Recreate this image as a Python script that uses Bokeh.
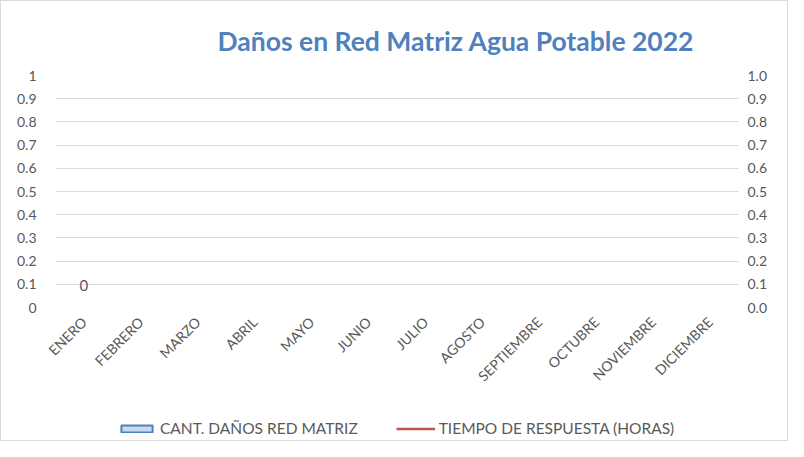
import math
from bokeh.plotting import figure
from bokeh.layouts import column
from bokeh.models import (FactorRange, Range1d, LinearAxis, FixedTicker, Title,
                          Legend, LegendItem, ColumnDataSource, CustomJSTickFormatter)
from bokeh.core.properties import value
from bokeh.embed import file_html
from bokeh.resources import INLINE

months = ["ENERO", "FEBRERO", "MARZO", "ABRIL", "MAYO", "JUNIO", "JULIO",
          "AGOSTO", "SEPTIEMBRE", "OCTUBRE", "NOVIEMBRE", "DICIEMBRE"]
nan = float("nan")
danos = [0, nan, nan, nan, nan, nan, nan, nan, nan, nan, nan, nan]
tiempo = [nan] * 12
left_ticks = [0, 0.1, 0.2, 0.3, 0.4, 0.5, 0.6, 0.7, 0.8, 0.9, 1]
title_text = "Daños en Red Matriz Agua Potable 2022"
series_names = ["CANT. DAÑOS RED MATRIZ", "TIEMPO DE RESPUESTA (HORAS)"]

FONT = "Lato"
GREY = "#595959"

src = ColumnDataSource(dict(m=months, d=danos, t=tiempo,
                            lbl=["0" if v == 0 else "" for v in danos]))

p = figure(width=786, height=400, x_range=FactorRange(*months), y_range=Range1d(0, 1),
           output_backend="svg", toolbar_location=None,
           min_border_left=54, min_border_right=49, min_border_top=74, min_border_bottom=94)
p.outline_line_color = None
p.xgrid.grid_line_color = None
p.ygrid.grid_line_color = "#d9d9d9"
p.ygrid.grid_line_width = 1
p.ygrid.ticker = FixedTicker(ticks=left_ticks)

title = Title(text=title_text, align="left", offset=162, standoff=37,
              text_font=FONT, text_font_style="bold", text_font_size="26.5px",
              text_color="#4f81bd")
p.add_layout(title, "above")

# left axis
ya = p.yaxis[0]
ya.ticker = FixedTicker(ticks=left_ticks)
ya.formatter = CustomJSTickFormatter(code="return String(Math.round(tick*10)/10);")
ya.axis_line_color = None
ya.major_tick_line_color = None
ya.minor_tick_line_color = None
ya.major_label_text_color = GREY
ya.major_label_text_font = FONT
ya.major_label_text_font_size = "14px"
ya.major_label_standoff = 13

# right axis
ra = LinearAxis(ticker=FixedTicker(ticks=left_ticks),
                formatter=CustomJSTickFormatter(code="return (Math.round(tick*10)/10).toFixed(1);"))
ra.axis_line_color = None
ra.major_tick_line_color = None
ra.minor_tick_line_color = None
ra.major_label_text_color = GREY
ra.major_label_text_font = FONT
ra.major_label_text_font_size = "14px"
ra.major_label_standoff = 3
p.add_layout(ra, "right")

xa = p.xaxis[0]
xa.axis_line_color = None
xa.major_tick_line_color = None
xa.minor_tick_line_color = None
xa.major_label_orientation = math.pi / 4
xa.major_label_text_color = GREY
xa.major_label_text_font = FONT
xa.major_label_text_font_size = "14px"
xa.major_label_standoff = 6

# data (zero-height bars draw nothing, as in the reference)
p.vbar(x="m", top="d", width=0.6, source=src, fill_color="#c6d9f1", line_color=None)
p.line(x="m", y="t", source=src, line_color="#c0504d", line_width=2.5)
p.text(x="m", y=0, text="lbl", source=src, text_align="center", text_baseline="middle",
       y_offset=-22, text_color=GREY, text_font=value(FONT), text_font_size="15px")

# legend strip
lf = figure(width=786, height=39, x_range=FactorRange(*months), y_range=Range1d(0, 1),
            output_backend="svg", toolbar_location=None,
            min_border_left=0, min_border_right=0, min_border_top=0, min_border_bottom=0)
lf.axis.visible = False
lf.grid.visible = False
lf.outline_line_color = None
bar_key = lf.vbar(x="m", top="t", width=0.6, source=src, fill_color="#c6d9f1",
                  line_color="#4f81bd", line_width=2)
line_key = lf.line(x="m", y="t", source=src, line_color="#c0504d", line_width=2.5)
legend = Legend(items=[LegendItem(label=series_names[0], renderers=[bar_key]),
                       LegendItem(label=series_names[1], renderers=[line_key])],
                orientation="horizontal", location=(62, 3),
                glyph_width=39, glyph_height=9, label_standoff=4, spacing=38,
                padding=0, margin=0, border_line_color=None, background_fill_alpha=0,
                label_text_color=GREY, label_text_font=FONT, label_text_font_size="15.5px")
lf.add_layout(legend)

layout = column(p, lf, spacing=0)
layout.styles = {"border": "1px solid #d9d9d9"}

open("out.html", "w").write(file_html(layout, INLINE))
